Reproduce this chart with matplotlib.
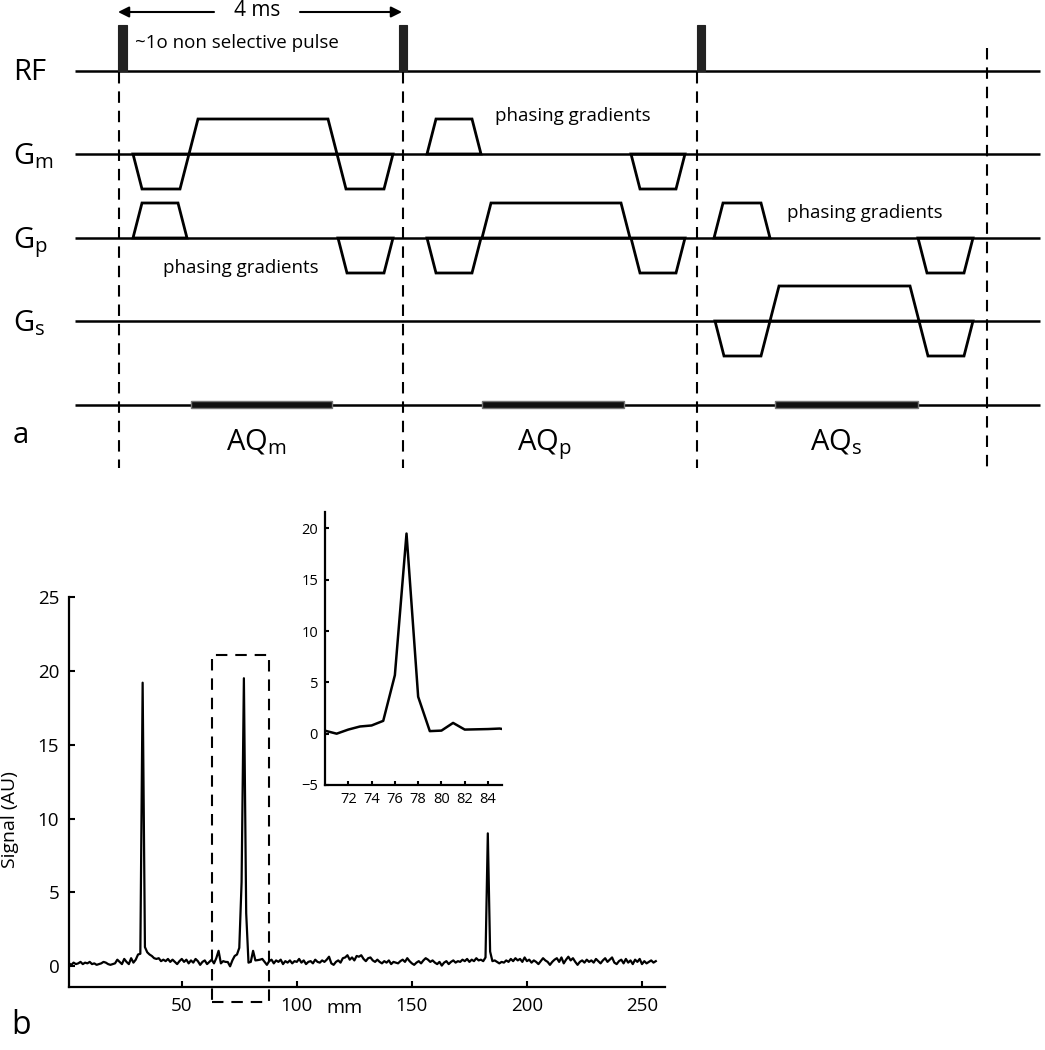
import numpy as np
import matplotlib
matplotlib.use("Agg")
import matplotlib.pyplot as plt
from matplotlib.patches import Polygon, Rectangle

plt.rcParams['font.family'] = ['Open Sans', 'DejaVu Sans']
plt.rcParams['mathtext.fontset'] = 'custom'
plt.rcParams['mathtext.rm'] = 'Open Sans'
plt.rcParams['mathtext.it'] = 'Open Sans'

# ---- panel a: pulse sequence timings (diagram units, left to right) ----
rf_pulses = [(118, 127), (399, 407), (697, 705)]
gm_lobes = [(133, 189, -1), (189, 337, 1), (337, 393, -1), (427, 481, 1), (631, 685, -1)]
gp_lobes = [(133, 187, 1), (338, 393, -1), (427, 481, -1), (482, 630, 1), (631, 685, -1),
            (714, 770, 1), (918, 973, -1)]
gs_lobes = [(715, 770, -1), (770, 919, 1), (919, 973, -1)]
aq_windows = [(191, 332), (482, 624), (775, 918)]
tr_marks = [119, 403, 697, 987]
aq_names = ['m', 'p', 's']

# ---- panel b: 1D projection profile ----
mm = np.arange(1, 257)
signal = [
    0.20, 0.10, 0.25, 0.15, 0.20, 0.30, 0.15, 0.25, 0.20, 0.30, 0.15, 0.20, 0.10, 0.15, 0.20, 0.30,
    0.25, 0.15, 0.10, 0.15, 0.20, 0.45, 0.30, 0.15, 0.50, 0.30, 0.15, 0.55, 0.25, 0.45, 0.80, 0.85,
    19.2, 1.30, 0.95, 0.80, 0.70, 0.55, 0.50, 0.55, 0.35, 0.45, 0.35, 0.50, 0.30, 0.45, 0.30, 0.15,
    0.35, 0.50, 0.30, 0.45, 0.20, 0.40, 0.25, 0.50, 0.35, 0.10, 0.30, 0.40, 0.15, 0.30, 0.45, 0.20,
    0.55, 1.05, 0.20, 0.35, 0.30, 0.29, 0.00, 0.40, 0.70, 0.80, 1.25, 5.70, 19.5, 3.60, 0.25, 0.30,
    1.05, 0.40, 0.42, 0.45, 0.50, 0.30, 0.10, 0.35, 0.45, 0.20, 0.40, 0.30, 0.45, 0.15, 0.35, 0.25,
    0.40, 0.20, 0.35, 0.30, 0.50, 0.25, 0.40, 0.15, 0.30, 0.35, 0.20, 0.45, 0.30, 0.25, 0.40, 0.30,
    0.45, 0.65, 0.20, 0.10, 0.30, 0.40, 0.25, 0.55, 0.60, 0.75, 0.45, 0.60, 0.40, 0.70, 0.65, 0.75,
    0.50, 0.35, 0.55, 0.60, 0.40, 0.30, 0.45, 0.30, 0.20, 0.35, 0.25, 0.40, 0.15, 0.30, 0.25, 0.20,
    0.35, 0.45, 0.30, 0.55, 0.35, 0.20, 0.10, 0.25, 0.35, 0.20, 0.40, 0.55, 0.45, 0.30, 0.40, 0.25,
    0.15, 0.30, 0.05, 0.25, 0.35, 0.15, 0.30, 0.40, 0.25, 0.35, 0.30, 0.45, 0.35, 0.50, 0.30, 0.45,
    0.35, 0.55, 0.40, 0.45, 0.35, 0.60, 9.00, 1.00, 0.35, 0.40, 0.30, 0.20, 0.30, 0.25, 0.40, 0.30,
    0.50, 0.35, 0.55, 0.40, 0.50, 0.30, 0.60, 0.35, 0.45, 0.25, 0.40, 0.30, 0.15, 0.35, 0.55, 0.40,
    0.30, 0.10, 0.30, 0.45, 0.55, 0.30, 0.60, 0.20, 0.45, 0.65, 0.40, 0.55, 0.30, 0.10, 0.30, 0.40,
    0.25, 0.45, 0.30, 0.40, 0.25, 0.50, 0.35, 0.20, 0.40, 0.55, 0.30, 0.45, 0.60, 0.25, 0.15, 0.35,
    0.45, 0.20, 0.50, 0.25, 0.40, 0.15, 0.45, 0.30, 0.50, 0.15, 0.35, 0.20, 0.30, 0.40, 0.25, 0.35,
]
zoom_box = (63.2, 88.0)
main_yticks = [0, 5, 10, 15, 20, 25]
main_xticks = [50, 100, 150, 200, 250]
inset_xticks = [72, 74, 76, 78, 80, 82, 84]
inset_yticks = [-5, 0, 5, 10, 15, 20]

W, H = 1045, 1050
fig = plt.figure(figsize=(W / 100, H / 100), dpi=100)

# layout of the diagram rows
row_y = {'RF': 71, 'Gm': 154, 'Gp': 238, 'Gs': 321, 'AQ': 405}
amp = 35
ramp = 9
dash = (0, (5.5, 3.8))

ax_d = fig.add_axes([0, 1 - 480 / H, 1, 480 / H])
ax_d.set_xlim(0, W)
ax_d.set_ylim(480, 0)
ax_d.axis('off')

# base lines of each channel
for name, y0 in row_y.items():
    ax_d.plot([75, 1040], [y0, y0], color='black', lw=1.8, solid_capstyle='butt', zorder=2)

# TR marks
for i, x in enumerate(tr_marks):
    top = 48 if i == len(tr_marks) - 1 else 72
    ax_d.plot([x, x], [top, 468], color='black', lw=1.5, linestyle=dash, zorder=1)

# RF pulses
for s, e in rf_pulses:
    ax_d.add_patch(Rectangle((s, 25), e - s, row_y['RF'] - 25, facecolor='#222222',
                             edgecolor='#222222', lw=0.8, zorder=3))

# gradient lobes
def draw_lobes(lobes, y0):
    for s, e, sign in lobes:
        yt = y0 - sign * amp
        pts = [(s, y0), (s + ramp, yt), (e - ramp, yt), (e, y0)]
        ax_d.add_patch(Polygon(pts, closed=True, fill=False, edgecolor='black',
                               lw=2.0, joinstyle='miter', zorder=3))

draw_lobes(gm_lobes, row_y['Gm'])
draw_lobes(gp_lobes, row_y['Gp'])
draw_lobes(gs_lobes, row_y['Gs'])

# acquisition windows
for s, e in aq_windows:
    ax_d.add_patch(Rectangle((s, row_y['AQ'] - 3.5), e - s, 7, facecolor='#111111',
                             edgecolor='#777777', lw=1.0, zorder=3))

# channel labels
lab = 21
ax_d.text(13, 80, 'RF', fontsize=lab, ha='left', va='baseline')
ax_d.text(13, 164, r'G$_{\mathrm{m}}$', fontsize=lab, ha='left', va='baseline')
ax_d.text(13, 248, r'G$_{\mathrm{p}}$', fontsize=lab, ha='left', va='baseline')
ax_d.text(13, 331, r'G$_{\mathrm{s}}$', fontsize=lab, ha='left', va='baseline')
ax_d.text(13, 443, 'a', fontsize=lab, ha='left', va='baseline')

for (s, e), sub in zip(aq_windows, aq_names):
    ax_d.text((s + e) / 2 - 36, 450, r'AQ$_{\mathrm{%s}}$' % sub, fontsize=lab,
              ha='left', va='baseline')

# 4 ms arrow
ax_d.text(257, 11, '4 ms', fontsize=15, ha='center', va='center')
arrow = dict(arrowstyle='-|>', lw=1.5, color='black', mutation_scale=16, shrinkA=0, shrinkB=0)
ax_d.annotate('', xy=(118, 12), xytext=(214, 12), arrowprops=arrow)
ax_d.annotate('', xy=(402, 12), xytext=(300, 12), arrowprops=arrow)

ax_d.text(135, 43, '~1o non selective pulse', fontsize=13.5, ha='left', va='center')
ax_d.text(495, 116, 'phasing gradients', fontsize=13.5, ha='left', va='center')
ax_d.text(787, 213, 'phasing gradients', fontsize=13.5, ha='left', va='center')
ax_d.text(163, 268, 'phasing gradients', fontsize=13.5, ha='left', va='center')

# ---- panel b main axes ----
ax = fig.add_axes([69 / W, 1 - 987 / H, 596 / W, 390 / H])
ax.plot(mm, signal, color='black', lw=1.6)
ax.set_xlim(1, 260)
ax.set_ylim(-1.4, 25)
ax.set_xticks(main_xticks)
ax.set_yticks(main_yticks)
for side in ['top', 'right']:
    ax.spines[side].set_visible(False)
for side in ['left', 'bottom']:
    ax.spines[side].set_linewidth(1.6)
ax.tick_params(direction='in', length=4, width=1.5, labelsize=13.5, pad=7)
ax.add_patch(Rectangle((zoom_box[0], -2.4), zoom_box[1] - zoom_box[0], 23.5, fill=False,
                       edgecolor='black', lw=1.5, linestyle=dash, clip_on=False))

fig.text(10 / W, 1 - 820 / H, 'Signal (AU)', fontsize=14, rotation=90, ha='center', va='center')
fig.text(345 / W, 1 - 1008 / H, 'mm', fontsize=14, ha='center', va='center')
fig.text(21 / W, 1 - 1026 / H, 'b', fontsize=23, ha='center', va='center')

# ---- inset ----
ax_in = fig.add_axes([325 / W, 1 - 785 / H, 177 / W, 273 / H])
ax_in.plot(mm, signal, color='black', lw=1.8)
ax_in.set_xlim(70, 85.2)
ax_in.set_ylim(-5, 21.6)
ax_in.set_xticks(inset_xticks)
ax_in.set_yticks(inset_yticks)
for side in ['top', 'right']:
    ax_in.spines[side].set_visible(False)
for side in ['left', 'bottom']:
    ax_in.spines[side].set_linewidth(1.6)
ax_in.tick_params(direction='in', length=3, width=1.5, labelsize=10.5, pad=5)

fig.savefig('out.png', dpi=100)
